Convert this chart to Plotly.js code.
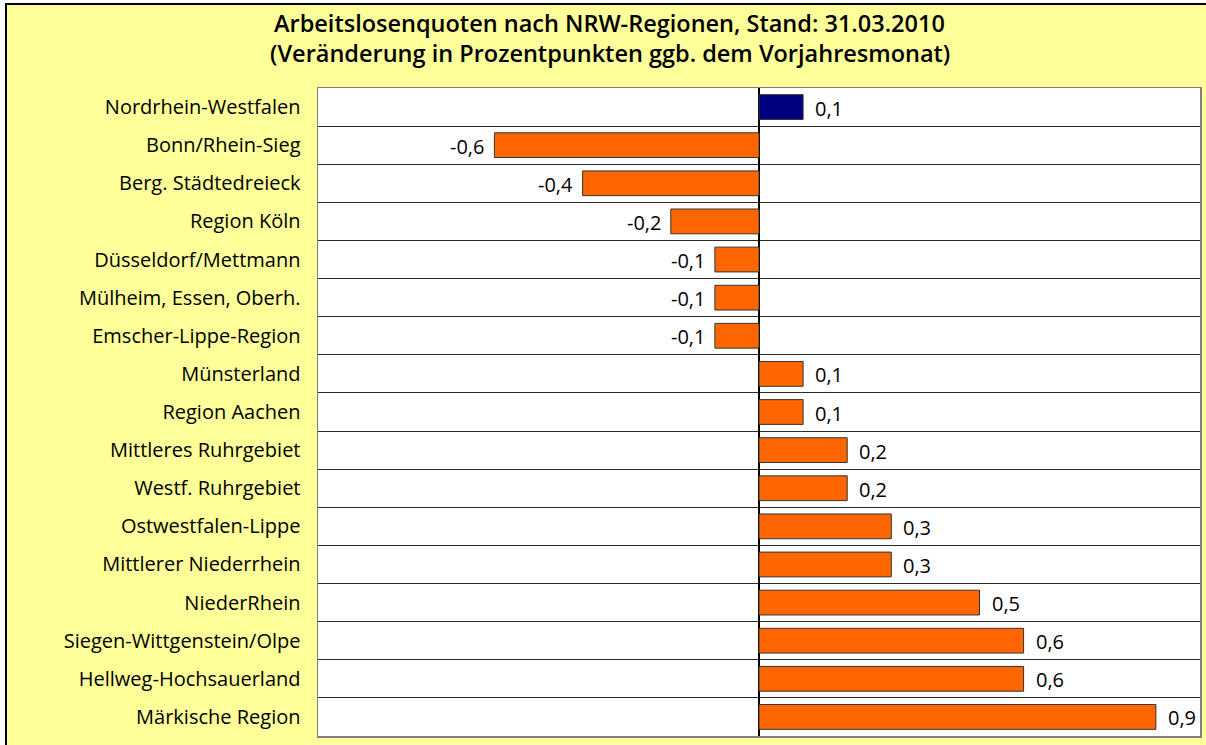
<!DOCTYPE html>
<html><head><meta charset="utf-8">
<script src="https://cdn.plot.ly/plotly-3.0.1.min.js"></script>
<style>
html,body{margin:0;padding:0;background:#fff;width:1206px;height:745px;overflow:hidden;}
#frame{position:absolute;left:5px;top:3px;width:1201px;height:742px;border-left:2px solid #000;border-top:2px solid #000;background:#ffff99;}
#chart{position:absolute;left:0;top:0;width:1201px;height:742px;}
</style></head>
<body><div id="frame"><div id="chart"></div></div>
<script>
const regions = [
 "Nordrhein-Westfalen","Bonn/Rhein-Sieg","Berg. Städtedreieck","Region Köln",
 "Düsseldorf/Mettmann","Mülheim, Essen, Oberh.","Emscher-Lippe-Region","Münsterland",
 "Region Aachen","Mittleres Ruhrgebiet","Westf. Ruhrgebiet","Ostwestfalen-Lippe",
 "Mittlerer Niederrhein","NiederRhein","Siegen-Wittgenstein/Olpe","Hellweg-Hochsauerland",
 "Märkische Region"
];
const changes = [0.1,-0.6,-0.4,-0.2,-0.1,-0.1,-0.1,0.1,0.1,0.2,0.2,0.3,0.3,0.5,0.6,0.6,0.9];
const titleLines = ["Arbeitslosenquoten nach NRW-Regionen, Stand: 31.03.2010",
 "(Veränderung in Prozentpunkten ggb. dem Vorjahresmonat)"];

const colors = regions.map((r,i)=> i===0 ? "#000080" : "#ff6600");
const fmt = v => v.toFixed(1).replace(".", ",");

const trace = {
  type:"bar", orientation:"h",
  x: changes, y: regions,
  marker:{color:colors, line:{color:"#333333", width:1}},
  hoverinfo:"none"
};
const valueAnn = changes.map((v,i)=>({
  x:v, y:regions[i], xref:"x", yref:"y", text:fmt(v), showarrow:false,
  xanchor: v>=0 ? "left" : "right", xshift: v>=0 ? 10 : -8, yshift:-1,
  font:{family:"Open Sans, sans-serif", size:20, color:"#000"}
}));
const titleAnn = [
  {text:titleLines[0], y:1.100},
  {text:titleLines[1], y:1.054}
].map(a=>({...a, x:0.331, xref:"paper", yref:"paper", xanchor:"center", yanchor:"middle",
  showarrow:false, font:{family:"Open Sans, sans-serif", size:23.5, color:"#000", weight:600}}));

const layout = {
  width:1201, height:742,
  paper_bgcolor:"#ffff99", plot_bgcolor:"#ffffff",
  margin:{l:311, r:8, t:83, b:11},
  bargap:0.35,
  showlegend:false,
  annotations: titleAnn.concat(valueAnn),
  xaxis:{range:[-1,1], showticklabels:false, ticks:"", showgrid:false,
    zeroline:true, zerolinecolor:"#000", zerolinewidth:2,
    showline:true, mirror:true, linecolor:"#808080", linewidth:1.5, fixedrange:true},
  yaxis:{autorange:"reversed", type:"category", tickson:"boundaries", showgrid:true,
    gridcolor:"#2a2a2a", gridwidth:1, ticks:"", ticklabelstandoff:12,
    showline:true, mirror:true, linecolor:"#808080", linewidth:1.5,
    tickfont:{family:"Open Sans, sans-serif", size:20, color:"#000"}, fixedrange:true}
};
Plotly.newPlot("chart",[trace],layout,{displayModeBar:false, staticPlot:true});
</script></body></html>
